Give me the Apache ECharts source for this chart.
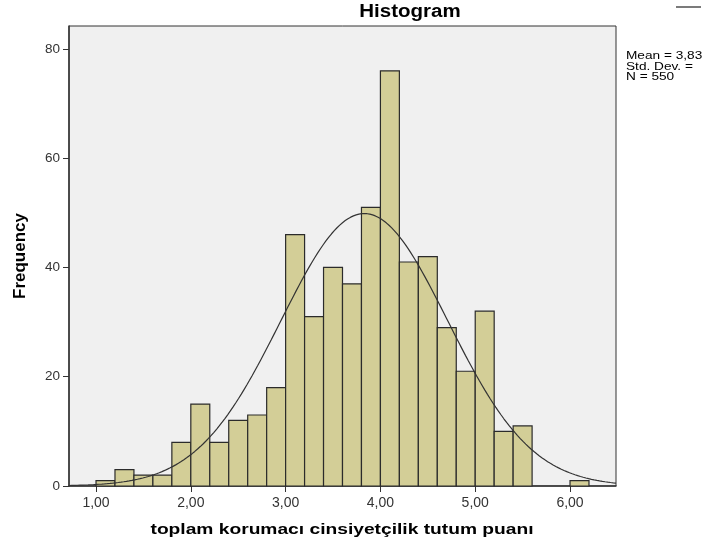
<!DOCTYPE html>
<html><head><meta charset="utf-8">
<script src="https://cdn.jsdelivr.net/npm/echarts@6/dist/echarts.min.js"></script>
<style>html,body{margin:0;padding:0;background:#fff}#c{width:705px;height:544px}</style>
</head><body><div id="c"></div>
<script>
const binStarts = [1.0,1.2,1.4,1.6,1.8,2.0,2.2,2.4,2.6,2.8,3.0,3.2,3.4,3.6,3.8,4.0,4.2,4.4,4.6,4.8,5.0,5.2,5.4,6.0];
const counts    = [1,3,2,2,8,15,8,12,13,18,46,31,40,37,51,76,41,42,29,21,32,10,11,1];
const binWidth = 0.2;
const xTicks = [1,2,3,4,5,6];
const yTicks = [0,20,40,60,80];
const statMean = 3.83, statSd = 0.88, statN = 550;
const statLines = ['Mean = 3,83','Std. Dev. =','N = 550'];

const xMin = 0.715, xMax = 6.485;
const curve = [];
for (let i = 0; i <= 200; i++) {
  const x = xMin + (xMax - xMin) * i / 200;
  const z = (x - statMean) / statSd;
  curve.push([x, statN * binWidth / (statSd * Math.sqrt(2 * Math.PI)) * Math.exp(-0.5 * z * z)]);
}
const barData = binStarts.map((s, i) => [s, s + binWidth, counts[i]]);
const fmt = v => v.toFixed(2).replace('.', ',');
const FONT = 'Liberation Sans';

const chart = echarts.init(document.getElementById('c'));
chart.setOption({
  animation: false,
  backgroundColor: '#fff',
  grid: { left: 69, top: 26, right: 89, bottom: 58, show: true, backgroundColor: '#f0f0f0', borderColor: '#333', borderWidth: 1 },
  xAxis: { type: 'value', min: xMin, max: xMax,
    axisLine: { show: true, onZero: false, lineStyle: { color: '#333', width: 1.5 } },
    splitLine: { show: false },
    axisTick: { show: true, length: 6, customValues: xTicks, lineStyle: { color: '#333' } },
    axisLabel: { customValues: xTicks, formatter: fmt, margin: 10, fontFamily: FONT, fontSize: 14, color: '#333' } },
  yAxis: { type: 'value', min: 0, max: 84.2,
    name: 'Frequency', nameLocation: 'middle', nameGap: 40, nameRotate: 90,
    nameTextStyle: { fontFamily: FONT, fontSize: 17, fontWeight: 'bold', color: '#000' },
    axisLine: { show: true, lineStyle: { color: '#333', width: 1.5 } },
    splitLine: { show: false },
    axisTick: { show: true, length: 6, customValues: yTicks, lineStyle: { color: '#333' } },
    axisLabel: { customValues: yTicks, margin: 9, fontFamily: FONT, fontSize: 13.5, color: '#333' } },
  series: [
    { type: 'custom', data: barData, encode: { x: [0, 1], y: 2 },
      renderItem: (params, api) => {
        const p0 = api.coord([api.value(0), api.value(2)]);
        const p1 = api.coord([api.value(1), 0]);
        return { type: 'rect', shape: { x: p0[0], y: p0[1], width: p1[0] - p0[0], height: p1[1] - p0[1] },
          style: { fill: '#d3ce97', stroke: '#2b2b2b', lineWidth: 1.2 } };
      } },
    { type: 'line', data: curve, showSymbol: false, smooth: false,
      lineStyle: { color: '#333', width: 1.2 }, z: 5 }
  ],
  graphic: [
    { type: 'text', x: 410, y: 12, scaleX: 1.14,
      style: { text: 'Histogram', textAlign: 'center', textVerticalAlign: 'middle', fontFamily: FONT, fontSize: 18, fontWeight: 'bold', fill: '#000' } },
    { type: 'text', x: 342, y: 530, scaleX: 1.28,
      style: { text: 'toplam korumacı cinsiyetçilik tutum puanı', textAlign: 'center', textVerticalAlign: 'middle', fontFamily: FONT, fontSize: 15, fontWeight: 'bold', fill: '#000' } },
    { type: 'line', shape: { x1: 676, y1: 7, x2: 701, y2: 7 }, style: { stroke: '#222', lineWidth: 1.2 } },
    { type: 'text', x: 626, y: 51, scaleX: 1.3,
      style: { text: statLines.join('\n'), fontFamily: FONT, fontSize: 10.5, lineHeight: 10.5, fill: '#000' } }
  ]
});
</script></body></html>
